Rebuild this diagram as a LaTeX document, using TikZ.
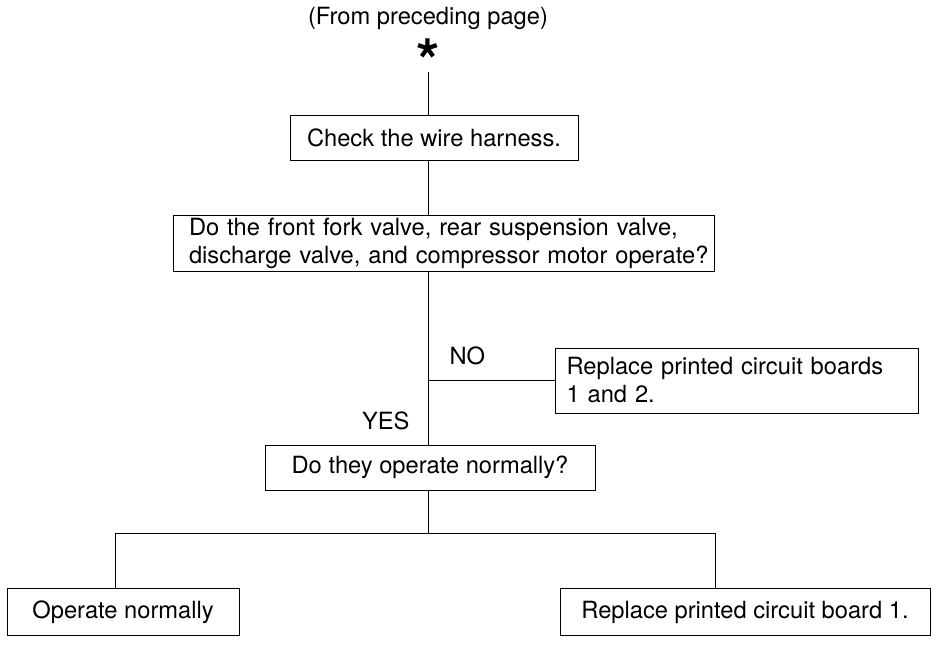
\documentclass[tikz,border=0pt]{standalone}
\usepackage{fontspec}
\setmainfont{TeX Gyre Heros}
\usepackage{tikz}
\usetikzlibrary{positioning,calc}
\tikzset{
  fbox/.style={draw,line width=0.9pt,inner sep=0pt,align=center,
               font=\fontsize{23.7}{28}\selectfont},
  lbox/.style={fbox,align=left,text width=#1},
  wire/.style={line width=0.9pt},
  lbl/.style={font=\fontsize{23.7}{28}\selectfont},
}

\begin{document}
\begin{tikzpicture}[x=1pt,y=-1pt]
  \useasboundingbox (0,0) rectangle (939,646);

  \node[lbl] (from) at (428,18) {(From preceding page)};
  \node[font=\fontsize{60}{60}\selectfont\bfseries] (star) at (428,61) {*};

  \node[fbox,minimum width=288pt,minimum height=45pt] (check) at (434,137.5)
    {Check the wire harness.};
  \node[lbox=541pt,minimum height=56pt] (ask) at (443.5,243)
    {\mbox{\hspace*{16pt}Do the front fork valve, rear suspension valve,}\\
     \mbox{\hspace*{16pt}discharge valve, and compressor motor operate?}};
  \node[lbox=340pt,minimum width=363pt,minimum height=65pt] (repl12) at (736.5,380.5)
    {Replace printed circuit boards\\1 and 2.};
  \node[fbox,minimum width=330pt,minimum height=45pt] (normq) at (430,467.5)
    {Do they operate normally?};
  \node[fbox,minimum width=232pt,minimum height=47pt] (opnorm) at (123,612)
    {Operate normally};
  \node[fbox,minimum width=370pt,minimum height=47pt] (repl1) at (745,612)
    {Replace printed circuit board 1.};

  % spine
  \coordinate (top) at (428,72);
  \coordinate (splitL) at (115,533);
  \coordinate (splitR) at (715,533);
  \draw[wire] (top) -- (top |- check.north);
  \draw[wire] (top |- check.south) -- (top |- ask.north);
  \draw[wire] (top |- ask.south) -- (top |- normq.north);
  \draw[wire] (top |- repl12.west) -- (repl12.west);
  \draw[wire] (top |- normq.south) -- (top |- splitL);
  \draw[wire] (splitL |- opnorm.north) -- (splitL) -- (splitR) -- (splitR |- repl1.north);

  \node[lbl,anchor=west] (no) at (446,356) {NO};
  \node[lbl,anchor=east] (yes) at (413,421) {YES};
\end{tikzpicture}
\end{document}
